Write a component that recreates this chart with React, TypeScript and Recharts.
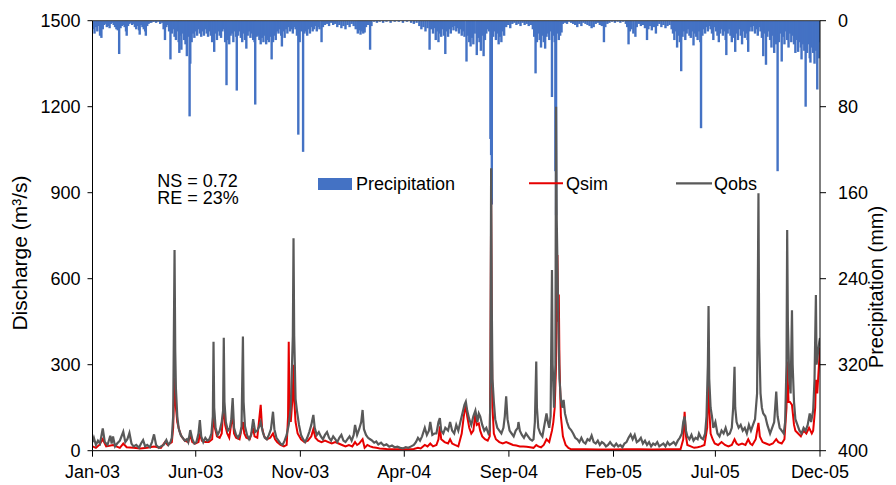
import React from 'react';
import { ComposedChart, Bar, Line, XAxis, YAxis, ReferenceLine } from 'recharts';

// x positions are day numbers counted from 1 Jan 2003
const tickDays = [0, 151, 304, 456, 609, 762, 911, 1064];
const tickLabels = ['Jan-03', 'Jun-03', 'Nov-03', 'Apr-04', 'Sep-04', 'Feb-05', 'Jul-05', 'Dec-05'];
const dischargeTicks = [0, 300, 600, 900, 1200, 1500];
const precipTicks = [0, 80, 160, 240, 320, 400];

const qobsPoints: [number, number][] = [
  [0,30],[2,45],[5,20],[8,35],[11,25],[15,78],[18,30],[22,20],[26,52],[28,25],[30,50],[33,15],[36,25],[40,35],[45,66],[48,30],[51,40],[54,62],[57,25],[60,15],[64,20],[68,10],[71,25],[74,37],[77,15],[80,20],[84,12],[87,30],[90,57],[93,20],[97,10],[100,15],[104,20],[108,37],[111,20],[114,30],[116,45],[118,120],[120,700],[121,350],[122,218],[124,120],[126,78],[129,55],[132,45],[135,35],[138,40],[140,30],[143,72],[146,40],[149,25],[152,30],[155,60],[157,107],[159,50],[162,30],[165,45],[168,35],[171,40],[174,60],[176,120],[177,380],[178,150],[180,80],[183,55],[186,70],[189,100],[191,140],[192,394],[193,170],[195,100],[198,70],[201,80],[203,110],[205,184],[207,80],[210,55],[213,45],[216,60],[218,85],[220,398],[221,170],[223,85],[226,55],[229,40],[232,55],[235,110],[238,65],[241,70],[244,85],[246,100],[249,65],[252,45],[255,40],[258,55],[261,75],[264,136],[266,75],[269,45],[272,35],[275,25],[278,20],[281,35],[284,55],[287,90],[290,150],[293,400],[294,741],[295,400],[297,180],[299,140],[302,90],[305,55],[308,40],[311,30],[314,45],[317,65],[320,90],[323,125],[325,80],[328,55],[331,65],[334,50],[337,40],[340,55],[343,65],[346,45],[349,35],[352,50],[355,40],[358,30],[361,45],[364,55],[367,35],[370,30],[373,40],[376,50],[379,35],[382,55],[384,90],[387,55],[390,75],[393,100],[395,142],[397,75],[400,55],[403,45],[406,40],[409,35],[412,28],[415,32],[418,22],[422,28],[426,18],[430,22],[434,14],[438,18],[442,12],[446,14],[450,10],[454,8],[458,12],[462,10],[466,15],[470,20],[473,30],[476,45],[479,35],[482,50],[486,80],[489,55],[492,70],[494,100],[497,55],[500,60],[503,60],[506,100],[508,114],[510,70],[513,60],[516,80],[520,70],[523,100],[526,70],[529,60],[532,90],[535,70],[538,100],[541,130],[544,160],[546,171],[548,140],[551,110],[554,90],[557,120],[560,140],[563,100],[565,130],[567,120],[570,90],[573,70],[576,80],[579,60],[581,70],[582,200],[583,985],[584,500],[585,250],[587,170],[589,110],[592,80],[595,70],[598,60],[601,80],[603,120],[605,190],[607,110],[610,70],[613,60],[616,50],[619,70],[622,80],[623,100],[625,70],[628,55],[631,45],[634,60],[637,50],[640,40],[643,35],[645,40],[647,100],[649,311],[650,150],[652,80],[655,60],[658,50],[661,90],[664,130],[666,100],[668,80],[670,120],[672,630],[673,300],[675,150],[677,300],[678,1200],[679,800],[681,500],[683,250],[685,180],[687,150],[689,177],[691,130],[694,100],[697,80],[700,72],[703,60],[706,45],[709,40],[712,30],[715,45],[718,30],[721,25],[724,40],[727,35],[730,53],[733,30],[736,25],[739,35],[742,20],[745,30],[748,25],[751,15],[754,20],[757,30],[760,20],[763,15],[766,25],[769,15],[772,20],[775,12],[778,25],[781,30],[784,45],[787,57],[790,40],[793,55],[796,30],[799,35],[802,45],[805,25],[808,35],[811,20],[814,30],[817,15],[820,25],[823,20],[826,30],[829,15],[832,20],[835,25],[838,15],[841,30],[844,20],[847,25],[850,30],[853,20],[856,35],[859,45],[862,60],[864,100],[866,119],[868,70],[870,50],[873,40],[876,55],[879,35],[882,45],[885,40],[887,60],[890,45],[893,40],[896,60],[898,120],[900,300],[901,505],[902,250],[904,150],[906,120],[908,80],[911,100],[914,60],[917,50],[920,70],[923,60],[926,80],[929,55],[932,60],[935,80],[937,150],[939,293],[940,150],[942,100],[945,80],[948,90],[951,70],[954,80],[957,60],[960,90],[963,70],[966,90],[969,110],[972,200],[974,898],[975,400],[977,200],[979,150],[981,130],[984,120],[987,90],[991,60],[994,80],[997,100],[1000,206],[1002,120],[1005,80],[1008,70],[1011,60],[1013,100],[1015,300],[1016,770],[1017,450],[1019,250],[1021,200],[1023,490],[1024,300],[1026,170],[1028,110],[1031,90],[1034,70],[1037,60],[1040,80],[1043,70],[1046,90],[1049,130],[1051,100],[1054,140],[1056,250],[1058,543],[1059,300],[1061,340],[1063,380],[1064,393],
];

const qsimPoints: [number, number][] = [
  [0,15],[5,10],[10,20],[15,40],[20,15],[30,20],[40,10],[45,25],[50,12],[60,10],[70,8],[80,10],[90,15],[100,10],[106,30],[110,20],[116,30],[118,80],[120,254],[122,150],[124,100],[127,70],[130,50],[135,35],[140,30],[143,54],[146,30],[150,25],[155,30],[157,60],[160,35],[165,30],[170,30],[175,40],[177,140],[179,80],[182,50],[186,45],[189,60],[192,170],[194,90],[197,60],[200,45],[205,130],[207,60],[210,45],[215,40],[220,100],[222,60],[225,45],[230,40],[235,80],[237,50],[241,45],[246,160],[248,80],[251,50],[255,40],[260,45],[264,60],[267,40],[270,30],[275,20],[280,15],[284,20],[286,120],[287,380],[288,180],[290,100],[293,200],[294,300],[295,180],[297,100],[300,60],[305,40],[310,30],[315,35],[320,50],[323,75],[326,45],[330,35],[335,30],[340,35],[345,30],[350,25],[355,30],[360,25],[365,20],[370,15],[375,20],[380,15],[384,30],[387,20],[390,25],[395,40],[398,10],[402,20],[406,15],[410,12],[415,10],[420,8],[430,6],[440,5],[450,5],[460,5],[470,6],[476,10],[480,8],[486,20],[490,15],[494,25],[498,15],[503,20],[506,40],[508,85],[510,40],[515,30],[520,25],[523,40],[526,25],[530,20],[535,15],[540,60],[543,120],[546,160],[548,120],[551,80],[554,60],[557,70],[560,130],[562,90],[565,95],[567,70],[570,50],[574,40],[578,35],[581,50],[582,300],[583,880],[584,400],[585,150],[587,60],[590,40],[595,30],[600,25],[605,30],[610,25],[615,20],[620,18],[625,15],[630,15],[635,14],[640,12],[645,10],[649,20],[652,15],[656,12],[660,20],[664,40],[668,30],[672,70],[674,100],[676,150],[678,300],[680,683],[681,450],[682,545],[683,300],[685,120],[688,50],[692,20],[696,10],[700,5],[720,5],[740,4],[760,4],[780,5],[800,5],[820,4],[840,5],[860,5],[864,40],[866,136],[868,50],[870,20],[875,15],[880,10],[885,12],[890,15],[895,20],[899,80],[901,300],[902,150],[904,60],[907,40],[910,25],[915,20],[920,30],[925,20],[930,15],[935,20],[939,40],[942,25],[945,20],[950,25],[955,20],[959,40],[962,25],[965,20],[970,40],[974,97],[976,50],[980,30],[985,25],[990,20],[995,25],[1000,40],[1003,30],[1008,25],[1012,40],[1015,150],[1016,311],[1018,170],[1020,170],[1023,160],[1026,90],[1028,70],[1032,60],[1036,50],[1040,70],[1044,60],[1048,80],[1052,60],[1054,70],[1057,150],[1058,247],[1060,200],[1062,280],[1064,360],
];

const precipPoints: [number, number][] = [
  [1,8],[3,12],[5,6],[7,10],[9,5],[11,14],[13,16],[15,8],[17,4],[19,3],[21,6],[23,5],[25,7],[27,3],[29,2],
  [31,4],[33,6],[35,8],[37,9],[39,31],[41,7],[43,5],[45,4],[47,6],[49,10],[50,14],[52,5],[54,3],[56,2],[58,4],
  [60,3],[62,6],[64,8],[66,5],[68,9],[69,13],[71,4],[73,6],[75,8],[77,10],[78,14],[80,5],[82,3],[84,2],[86,2],[88,1],
  [90,1],[93,2],[96,1],[99,3],[102,2],[104,8],[106,18],[108,6],[110,4],[112,10],[114,36],[116,12],[118,8],[120,15],[122,18],[124,10],[126,20],[127,30],[129,14],
  [130,27],[132,12],[134,18],[136,22],[138,33],[140,15],[142,89],[143,40],[145,20],[147,12],[149,16],[151,10],[153,14],[155,8],[157,12],[159,15],[161,10],[163,14],[165,8],[167,12],[169,15],[171,10],[173,14],[175,20],
  [177,15],[178,29],[180,12],[182,18],[184,10],[186,14],[188,16],[190,10],[192,8],[194,20],[196,60],[198,18],[200,22],[202,14],[204,12],[206,20],[208,10],[210,15],[211,65],[213,14],[215,10],[217,16],[219,20],[221,12],[223,18],[225,26],[227,14],[229,10],[231,16],[233,12],[235,18],[237,20],[238,78],[240,15],
  [242,14],[244,18],[246,22],[248,16],[250,20],[252,14],[254,22],[256,18],[258,20],[260,15],[262,36],[264,20],[266,14],[268,18],[270,10],[272,12],[274,8],[276,14],[277,24],[279,10],[281,16],[283,8],[285,12],[287,6],[289,10],[291,8],[293,12],[295,6],[297,8],[299,14],[301,106],[303,20],[305,10],[308,122],[310,12],
  [312,10],[314,14],[316,8],[318,12],[320,6],[322,10],[324,8],[326,5],[328,10],[330,6],[332,8],[335,20],[337,6],[340,4],[343,3],[346,5],[349,2],[352,4],[355,3],[358,6],[361,4],[364,7],[367,5],[370,8],[373,4],[376,6],[379,3],[382,5],[385,8],[388,12],[390,9],[392,13],[394,10],[396,12],[398,11],[400,6],[403,4],[406,27],[408,5],
  [412,1],[416,2],[420,1],[425,2],[430,1],[436,2],[442,1],[448,1],[454,2],[460,1],[466,2],[470,3],[474,2],
  [478,5],[481,8],[484,6],[487,10],[490,7],[493,27],[495,8],[498,12],[500,7],[502,18],[504,10],[506,20],[508,12],[510,15],[512,8],[514,14],[516,31],[518,10],[520,15],[522,8],[524,12],[526,6],[528,9],[530,5],[532,10],[534,7],[536,12],[538,8],[540,14],[542,10],[544,15],[547,38],[549,14],[551,20],[553,24],[555,16],[557,22],[559,12],[562,32],[564,16],
  [566,20],[568,28],[570,14],[572,33],[574,18],[576,12],[578,8],[580,10],[582,110],[583,125],[584,171],[586,15],[588,10],[590,18],[592,12],[594,22],[596,15],[598,20],[600,10],[602,14],
  [605,6],[608,4],[611,7],[614,3],[617,2],[620,4],[623,3],[626,5],[629,2],[632,4],[635,3],[638,5],[641,4],[644,8],[646,15],[648,49],[650,20],[652,12],[654,18],[656,25],[658,14],[660,20],[662,26],[664,15],
  [666,12],[668,18],[670,10],[672,71],[674,14],[676,20],[677,140],[678,181],[680,12],[682,18],[684,14],[686,11],[688,3],[691,2],[694,3],[697,1],[700,2],[703,3],
  [706,4],[709,6],[712,3],[715,5],[718,2],[721,3],[724,4],[727,5],[730,7],[733,6],[736,3],[739,2],[742,4],[745,5],[748,20],[750,6],[753,3],[756,2],[760,1],[764,2],[768,1],[772,2],[776,1],[780,3],[782,6],[784,22],[786,10],[788,8],[791,12],[794,15],[796,6],
  [799,3],[802,5],[805,4],[808,7],[811,18],[813,8],[815,5],[818,9],[821,6],[824,12],[826,5],[829,3],[832,6],[835,4],[838,7],[841,5],[844,4],[847,8],[849,12],[851,18],[853,10],[855,25],[857,14],[859,20],[861,47],[863,15],[865,10],[867,18],[869,12],[871,8],[873,14],[875,16],[877,10],[879,23],[881,12],
  [883,15],[885,18],[887,10],[889,20],[890,100],[892,14],[894,8],[896,12],[898,6],[900,10],[902,5],[904,8],[906,12],[908,18],[910,6],[912,10],[914,14],[916,20],[918,12],[920,8],[922,14],[924,10],[926,18],[927,32],[929,12],[931,8],[933,14],[935,20],[937,10],[938,16],[940,29],[942,12],[944,18],[946,8],[948,14],[950,22],[952,10],[954,16],[956,12],[958,18],[959,29],[961,10],
  [963,6],[965,10],[967,5],[969,12],[971,8],[973,14],[975,6],[977,10],[979,16],[981,33],[983,12],[985,41],[987,15],[989,10],[991,18],[993,25],[995,14],[997,30],[999,20],[1000,22],[1002,140],[1004,20],[1006,12],[1008,38],[1010,15],[1012,22],[1014,10],[1016,18],[1018,25],[1020,12],[1022,20],[1024,14],[1026,22],[1028,30],[1030,18],[1032,29],[1034,20],[1036,25],[1037,36],[1039,22],[1041,28],[1043,80],[1045,30],[1047,22],[1049,35],[1050,39],[1052,25],[1054,30],[1056,40],[1058,28],[1060,64],[1062,35],[1064,20],
];

type Row = { day: number; qobs?: number; qsim?: number; precip?: number };

function buildRows(): Row[] {
  const map = new Map<number, Row>();
  const put = (pts: [number, number][], key: 'qobs' | 'qsim' | 'precip') => {
    pts.forEach(([d, v]) => {
      const r = map.get(d) || { day: d };
      r[key] = v;
      map.set(d, r);
    });
  };
  put(precipPoints, 'precip');
  put(qsimPoints, 'qsim');
  put(qobsPoints, 'qobs');
  return Array.from(map.values()).sort((a, b) => a.day - b.day);
}

const rows = buildRows();
const FONT = '"Liberation Sans", Arial, sans-serif';
const W = 888;
const H = 477;
const BAR_W = 2.4;

// Draw each daily bar with a fixed visible width, centred on the bar the library placed
const PrecipBar = (props: any) => {
  const { x, y, width, height, fill } = props;
  if (x == null || y == null || !height) return null;
  const top = Math.min(y, y + height);
  const h = Math.abs(height);
  const cx = x + (width || 0) / 2;
  return <rect x={cx - BAR_W / 2} y={top} width={BAR_W} height={h} fill={fill} />;
};

export default function App() {
  const tickStyle = { fontSize: 18, fill: '#000', fontFamily: FONT };
  return (
    <div style={{ position: 'relative', width: W, height: H, fontFamily: FONT }}>
      <ComposedChart width={W} height={H} data={rows} margin={{ top: 12.7, right: 0, bottom: 0, left: 0 }}>
        <XAxis
          dataKey="day"
          type="number"
          domain={[0, 1064]}
          ticks={tickDays}
          tickFormatter={(v: number) => tickLabels[tickDays.indexOf(v)] ?? ''}
          height={34.3}
          tickSize={6}
          tickMargin={9}
          tick={tickStyle}
          stroke="#000"
          xAxisId="x"
          interval={0}
          allowDataOverflow
        />
        <YAxis
          yAxisId="q"
          orientation="left"
          domain={[0, 1500]}
          ticks={dischargeTicks}
          width={84.5}
          tickSize={5}
          tickMargin={7}
          tick={tickStyle}
          stroke="#000"
          interval={0}
          allowDataOverflow
        />
        <YAxis
          yAxisId="p"
          orientation="right"
          domain={[0, 400]}
          ticks={precipTicks}
          reversed
          width={76}
          tickSize={6}
          tickMargin={12}
          tick={tickStyle}
          stroke="#000"
          interval={0}
          allowDataOverflow
        />
        <ReferenceLine yAxisId="p" xAxisId="x" y={0} stroke="#333" strokeWidth={1} />
        <Bar
          dataKey="precip"
          yAxisId="p"
          xAxisId="x"
          fill="#4472C4"
          shape={PrecipBar}
          isAnimationActive={false}
        />
        <Line
          dataKey="qsim"
          yAxisId="q"
          xAxisId="x"
          type="linear"
          stroke="#E60000"
          strokeWidth={2}
          dot={false}
          connectNulls
          isAnimationActive={false}
        />
        <Line
          dataKey="qobs"
          yAxisId="q"
          xAxisId="x"
          type="linear"
          stroke="#595959"
          strokeWidth={2.2}
          dot={false}
          connectNulls
          isAnimationActive={false}
        />
      </ComposedChart>
      <svg
        width={W}
        height={H}
        style={{ position: 'absolute', left: 0, top: 0, pointerEvents: 'none' }}
        fontFamily={FONT}
        fontSize={18}
      >
        <text x={149.3} y={178.5} fill="#000">NS = 0.72</text>
        <text x={149.3} y={196} fill="#000">RE = 23%</text>
        <rect x={310} y={170} width={34} height={12} fill="#4472C4" />
        <text x={348} y={182} fill="#000">Precipitation</text>
        <line x1={521} x2={555} y1={175.3} y2={175.3} stroke="#E60000" strokeWidth={2} />
        <text x={558} y={182} fill="#000">Qsim</text>
        <line x1={668} x2={704} y1={175.3} y2={175.3} stroke="#595959" strokeWidth={2.2} />
        <text x={706} y={182} fill="#000">Qobs</text>
        <text x={19} y={245} fontSize={21} textAnchor="middle" transform="rotate(-90, 19, 245)" fill="#000">
          Discharge (m³/s)
        </text>
        <text x={875} y={279} fontSize={20} textAnchor="middle" transform="rotate(-90, 875, 279)" fill="#000">
          Precipitation (mm)
        </text>
      </svg>
    </div>
  );
}
